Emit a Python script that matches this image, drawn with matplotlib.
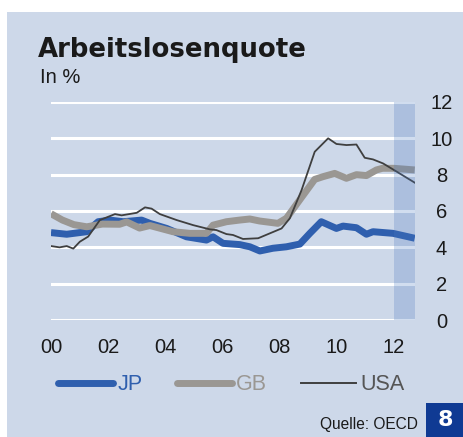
import matplotlib
matplotlib.use("Agg")
import matplotlib.pyplot as plt
from matplotlib.patches import Rectangle
from matplotlib.lines import Line2D

# Arbeitslosenquote in %, x = Jahre seit 2000
jp_x = [0, 0.55, 1.25, 1.65, 2.06, 2.53, 3.17, 3.46, 4.05, 4.74, 5.44, 5.67, 6.02, 6.61,
        6.96, 7.31, 7.77, 8.24, 8.71, 9.06, 9.46, 9.99, 10.22, 10.69, 11.04, 11.27, 11.97, 12.73]
jp_y = [4.81, 4.72, 4.86, 5.41, 5.5, 5.41, 5.5, 5.32, 5.04, 4.58, 4.4, 4.58, 4.22, 4.15,
        4.03, 3.8, 3.95, 4.03, 4.18, 4.77, 5.41, 5.04, 5.17, 5.08, 4.72, 4.86, 4.77, 4.5]

gb_x = [0, 0.4, 0.8, 1.25, 1.8, 2.4, 2.65, 3.1, 3.46, 4.27, 4.86, 5.44, 5.67, 6.14, 6.6,
        6.96, 7.3, 7.94, 8.24, 8.7, 9.23, 9.52, 9.93, 10.34, 10.69, 11.04, 11.39, 11.6, 12.0, 12.73]
gb_y = [5.85, 5.5, 5.25, 5.13, 5.28, 5.27, 5.4, 5.06, 5.2, 4.86, 4.77, 4.77, 5.22, 5.41, 5.5,
        5.56, 5.45, 5.32, 5.6, 6.6, 7.74, 7.89, 8.07, 7.8, 8.0, 7.95, 8.26, 8.35, 8.35, 8.26]

us_x = [0, 0.3, 0.55, 0.78, 1.01, 1.3, 1.71, 2.24, 2.47, 3.0, 3.29, 3.52, 3.81, 4.4, 4.98,
        5.56, 5.79, 6.14, 6.37, 6.72, 7.25, 7.66, 8.07, 8.36, 8.77, 9.23, 9.7, 9.99, 10.34,
        10.69, 10.98, 11.27, 11.62, 11.97, 12.73]
us_y = [4.07, 4.0, 4.07, 3.93, 4.31, 4.59, 5.5, 5.83, 5.76, 5.9, 6.2, 6.13, 5.83, 5.5, 5.22,
        4.99, 4.95, 4.73, 4.68, 4.46, 4.5, 4.77, 5.04, 5.6, 7.15, 9.26, 10.0, 9.69, 9.63,
        9.66, 8.93, 8.84, 8.62, 8.29, 7.56]

x_ticks = [0, 2, 4, 6, 8, 10, 12]
x_labels = ["00", "02", "04", "06", "08", "10", "12"]
y_ticks = [0, 2, 4, 6, 8, 10, 12]
band = (12.0, 12.74)

BG = "#cdd8e9"
JP_C = "#2f5fae"
GB_C = "#9a9793"
US_C = "#3f3f3f"
FONT = ["Liberation Sans", "DejaVu Sans"]

W, H = 464, 437
fig = plt.figure(figsize=(W / 100, H / 100), dpi=100)
fig.patch.set_facecolor("white")
fig.patches.append(Rectangle((7 / W, 0), 1, 1 - 12 / H, transform=fig.transFigure,
                             facecolor=BG, edgecolor="none", zorder=-5))

ax = fig.add_axes([51 / W, 1 - 320 / H, (415 - 51) / W, (320 - 102) / H])
ax.set_facecolor("none")
ax.set_xlim(0, 12.74)
ax.set_ylim(0, 12)
for s in ax.spines.values():
    s.set_visible(False)

for v in y_ticks:
    ax.axhline(v, color="white", lw=2.2, zorder=1)

ax.plot(jp_x, jp_y, color=JP_C, lw=5.0, solid_capstyle="butt", solid_joinstyle="round", zorder=3)
ax.plot(gb_x, gb_y, color=GB_C, lw=5.0, solid_capstyle="butt", solid_joinstyle="round", zorder=4)
ax.plot(us_x, us_y, color=US_C, lw=1.3, solid_joinstyle="round", zorder=5)
ax.axvspan(band[0], band[1], ymin=0, ymax=1.0, color="#4a78c0", alpha=0.25, lw=0, zorder=6)

ax.set_xticks(x_ticks)
ax.set_xticklabels(x_labels, family=FONT, fontsize=14.5, color="#1a1a1a")
ax.set_yticks(y_ticks)
ax.set_yticklabels([str(v) for v in y_ticks], family=FONT, fontsize=14.5, color="#1a1a1a")
ax.yaxis.tick_right()
ax.tick_params(axis="both", length=0)
ax.tick_params(axis="x", pad=13)
ax.tick_params(axis="y", pad=19)
for lab in ax.get_yticklabels():
    lab.set_horizontalalignment("center")

handles = [
    Line2D([], [], color=JP_C, lw=5, solid_capstyle="round"),
    Line2D([], [], color=GB_C, lw=5, solid_capstyle="round"),
    Line2D([], [], color=US_C, lw=1.4),
]
leg = fig.legend(handles, ["JP", "GB", "USA"], loc="center left",
                 bbox_to_anchor=(58 / W, 1 - 385 / H), ncol=3, frameon=False,
                 handlelength=2.55, handletextpad=0.2, columnspacing=1.6,
                 borderpad=0, borderaxespad=0,
                 prop={"family": FONT, "size": 15.5})
for t, c in zip(leg.get_texts(), [JP_C, GB_C, "#555555"]):
    t.set_color(c)

fig.text(38 / W, 1 - 57 / H, "Arbeitslosenquote", family="DejaVu Sans", weight="bold",
         fontsize=18.7, color="#1a1a1a", va="baseline")
fig.text(40 / W, 1 - 83 / H, "In %", family=FONT, fontsize=14.5, color="#1a1a1a", va="baseline")
fig.text(418 / W, 1 - 429 / H, "Quelle: OECD", family=FONT, fontsize=11.2, color="#1a1a1a",
         ha="right", va="baseline")

fig.patches.append(Rectangle((426 / W, 0), 38 / W, 34 / H, transform=fig.transFigure,
                             facecolor="#0f3a93", edgecolor="none", zorder=1))
fig.text(445 / W, 1 - 420 / H, "8", family="DejaVu Sans", weight="bold", fontsize=16,
         color="white", ha="center", va="center")

fig.savefig("out.png", dpi=100, facecolor="white")
